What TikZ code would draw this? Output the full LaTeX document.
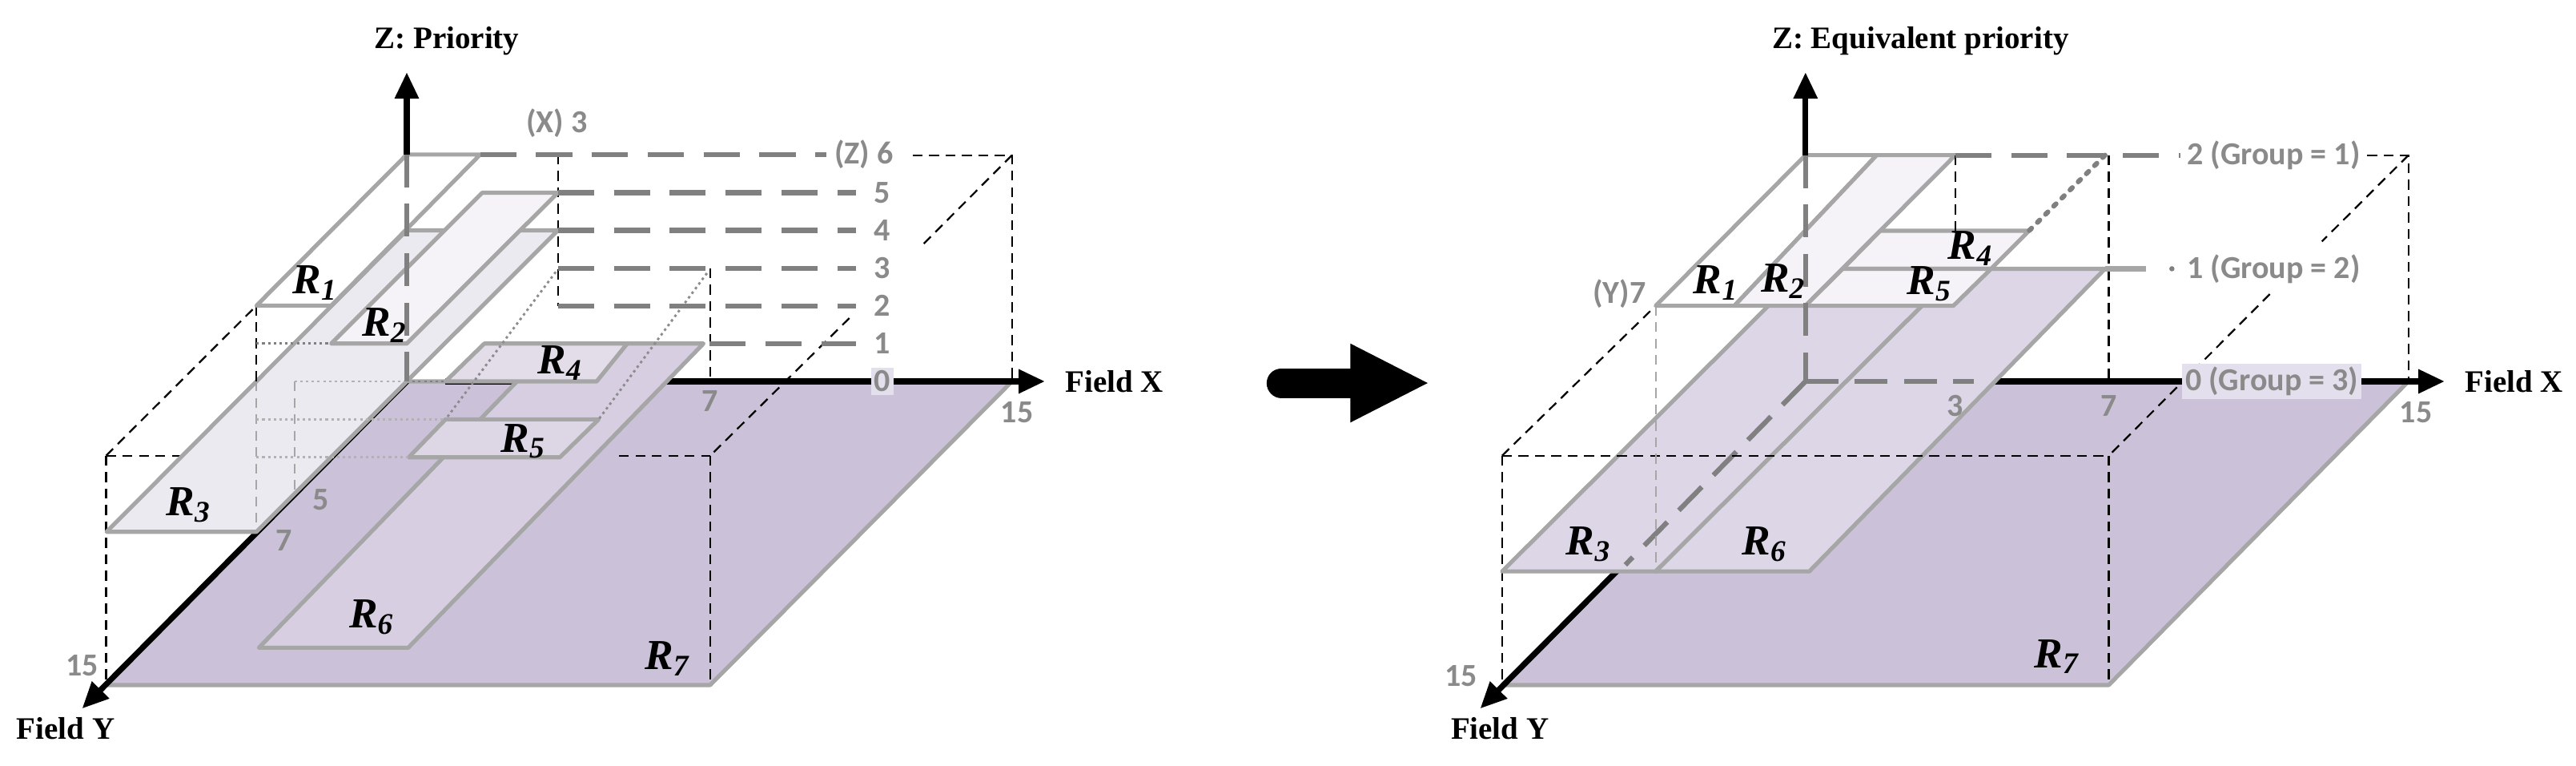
\documentclass[tikz,border=0pt]{standalone}
\usepackage{fontspec}
\setmainfont{Liberation Serif}
\newfontfamily\grayfnt{Carlito}
\usetikzlibrary{arrows.meta}
\definecolor{floorc}{HTML}{CBC2D9}
\definecolor{bord}{HTML}{A6A6A6}
\definecolor{dgray}{HTML}{808080}
\definecolor{lblg}{HTML}{8A8A8A}
\definecolor{cR6}{HTML}{D7CFE1}
\definecolor{cR4}{HTML}{E3DDE9}
\definecolor{cR5}{HTML}{DDD6E5}
\definecolor{cR3}{HTML}{ECEAF1}
\definecolor{cR2}{HTML}{F5F3F8}
\definecolor{cLow}{HTML}{DCD6E7}
\definecolor{cUp}{HTML}{F5F3F8}
\definecolor{zbg}{HTML}{E4DFEC}
\begin{document}
\begin{tikzpicture}[x=1pt,y=-1pt,
  plate/.style={draw=bord,line width=2.5pt,line join=round},
  lvl/.style={draw=dgray,line width=3pt,dash pattern=on 22pt off 12pt},
  zdash/.style={draw=dgray,line width=3pt,dash pattern=on 20pt off 10pt},
  bd/.style={black,line width=1.1pt,dash pattern=on 6pt off 4pt},
  bdl/.style={black!35,line width=1.1pt,dash pattern=on 6pt off 4pt},
  dot/.style={dgray,line width=1.4pt,dash pattern=on 1.5pt off 2pt},
  ldot/.style={black!30,line width=1.4pt,dash pattern=on 1.5pt off 2pt},
  ax/.style={black,line width=3.5pt,-{Triangle[length=16pt,width=14pt]}},
  rl/.style={font=\fontsize{26}{26}\selectfont\bfseries\itshape},
  gl/.style={text=lblg,font=\fontsize{19.5}{19.5}\selectfont\grayfnt\bfseries,inner sep=1pt},
  tl/.style={font=\fontsize{19}{19}\selectfont\bfseries}]
\useasboundingbox (0,0) rectangle (1568,465.5);
%================ LEFT =================
\coordinate (O) at (247.6,232); \coordinate (Xe) at (636,232);
\coordinate (Ze) at (247.6,44); \coordinate (Ye) at (50,431);
\coordinate (Z6) at (247.6,94);
\coordinate (a1) at (616,232); \coordinate (a2) at (432.3,416.7); \coordinate (a3) at (64.6,416.7);
\fill[floorc] (O) -- (a1) -- (a2) -- (a3) -- cycle;
\draw[plate] (O) -- (a1) -- (a2) -- (a3) -- cycle;
\coordinate (xs) at (271.2,232);
\draw[ax] (xs) -- (Xe);
\draw[dot,dgray] (O) -- (xs);
\draw[ax] (O) -- (Ye);
% back box lines
\coordinate (b1) at (555.5,94.4); \coordinate (b2) at (616,94.4);
\coordinate (b3) at (432.3,277.2); \coordinate (b4) at (64.6,277.2);
\draw[bd] (b1) -- (b2) -- (a1);
\draw[bd] (b2) -- (559.5,151); \draw[bd] (517,193.5) -- (b3);
\draw[bd] (b3) -- (a2);
\draw[bd] (b4) -- (a3);
\draw[bd] (b4) -- (132,277.2); \draw[bd] (376.8,277.2) -- (b3);
\draw[bd] (432.3,163.2) -- (432.3,232);
\draw[bd] (339.6,94) -- (339.6,186);
% R6
\coordinate (r6a) at (337,209); \coordinate (r6b) at (428.2,209);
\coordinate (r6c) at (248.5,394); \coordinate (r6d) at (157.6,394);
\draw[plate,fill=cR6] (r6a) -- (r6b) -- (r6c) -- (r6d) -- cycle;
% R4
\coordinate (r4a) at (294.8,209); \coordinate (r4b) at (381.8,209);
\coordinate (r4c) at (363.2,232); \coordinate (r4d) at (271.2,232);
\draw[plate,fill=cR4] (r4a) -- (r4b) -- (r4c) -- (r4d) -- cycle;
% R5
\coordinate (r5a) at (271.2,255.1); \coordinate (r5b) at (364.4,255.1);
\coordinate (r5c) at (340.8,278.2); \coordinate (r5d) at (248.8,278.2);
\draw[plate,fill=cR5] (r5a) -- (r5b) -- (r5c) -- (r5d) -- cycle;
\draw[ldot,black!45] (338.3,165.4) -- (r5a);
\draw[ldot,black!45] (430.3,166.2) -- (r5b);
% R3
\coordinate (r3a) at (247.6,140.1); \coordinate (r3b) at (339.6,140.1);
\coordinate (r3c) at (156.1,323.5); \coordinate (r3d) at (64.9,323.5);
\draw[plate,fill=cR3] (r3a) -- (r3b) -- (r3c) -- (r3d) -- cycle;
\draw[bd] (b4) -- (156.1,185.9);
\draw[bd] (156.1,185.9) -- (156.1,232);
\draw[bdl] (156.1,232) -- (156.1,323.5);
\draw[bdl] (179.2,232) -- (179.2,300);
\draw[ldot] (179.2,232) -- (O);
\draw[ldot] (156.1,255.1) -- (r5a);
\draw[ldot] (156.1,278.2) -- (r5d);
% R2
\coordinate (r2a) at (293.6,117.2); \coordinate (r2b) at (339.6,117.2);
\coordinate (r2c) at (247.6,209); \coordinate (r2d) at (201.6,209);
\draw[plate,fill=cR2] (r2a) -- (r2b) -- (r2c) -- (r2d) -- cycle;
\draw[dot] (156.1,209) -- (r2d);
% R1
\coordinate (r1a) at (247.6,94); \coordinate (r1b) at (292.3,94);
\coordinate (r1c) at (201.6,185.9); \coordinate (r1d) at (156.1,185.9);
\draw[plate,fill=white] (r1a) -- (r1b) -- (r1c) -- (r1d) -- cycle;
% z axis
\draw[ax] (Z6) -- (Ze);
\draw[zdash] (Z6) -- (O);
% level lines
\draw[lvl] (292.3,94) -- (503,94);
\foreach \y/\n in {117.2/5,140.1/4,163.2/3,186/2} \draw[lvl] (339.6,\y) -- (521,\y);
\draw[lvl] (432,209) -- (521,209);
\node[gl,anchor=east] (zl6) at (545,94) {(Z) 6};
\foreach \y/\n in {117.2/5,140.1/4,163.2/3,186/2,209/1} \node[gl] (zl\n) at (537,\y) {\n};
\node[gl,fill=zbg,inner sep=2pt] (zl0) at (537,232) {0};
\node[gl] (xl3) at (339,75) {(X) 3};
\node[gl] (xl7) at (432,244) {7};
\node[gl] (xl15) at (619,251) {15};
\node[gl] (yl5) at (195.4,303.8) {5};
\node[gl] (yl7) at (173,329) {7};
\node[gl] (yl15) at (50,404.7) {15};
\node[rl] at (191.6,172.2) {R\textsubscript{1}};
\node[rl] at (233.9,198) {R\textsubscript{2}};
\node[rl] at (114.6,307.2) {R\textsubscript{3}};
\node[rl] at (340.8,220.9) {R\textsubscript{4}};
\node[rl] at (318.4,268.5) {R\textsubscript{5}};
\node[rl] at (226,375.5) {R\textsubscript{6}};
\node[rl] at (406,400.7) {R\textsubscript{7}};
\node[tl] (tz) at (272,25) {Z: Priority};
\node[tl,anchor=west] (tx) at (645,232) {Field X};
\node[tl] (ty) at (40,443) {Field Y};
%================ ARROW =================
\coordinate (ar1) at (780,233); \coordinate (ar2) at (826,233);
\draw[line width=18pt,line cap=round] (ar1) -- (ar2);
\fill (822,209) -- (869,233) -- (822,257) -- cycle;
%================ RIGHT =================
\coordinate (P) at (1099,232); \coordinate (PXe) at (1488,232);
\coordinate (PZe) at (1099,44); \coordinate (PYe) at (901,431);
\coordinate (PZ2) at (1099,94.4);
\coordinate (f1) at (1466,232); \coordinate (f2) at (1283.6,416.7); \coordinate (f3) at (914.3,416.7);
\fill[floorc] (P) -- (f1) -- (f2) -- (f3) -- cycle;
\draw[plate] (P) -- (f1) -- (f2) -- (f3) -- cycle;
\draw[ax] (P) -- (PXe);
\draw[ax] (P) -- (PYe);
\coordinate (g1) at (1440.9,94.4); \coordinate (g2) at (1466,94.4);
\coordinate (g3) at (1283.6,277.2); \coordinate (g4) at (914.3,277.2);
\draw[bd] (g1) -- (g2) -- (f1);
\draw[bd] (g2) -- (1413.3,146.9); \draw[bd] (1381.6,178.9) -- (g3);
\draw[bd] (1283.6,94.4) -- (1283.6,232);
\draw[bd] (g3) -- (f2); \draw[bd] (g4) -- (f3);
\draw[bdl] (1190.2,186) -- (1190.2,232);
% lower plate
\coordinate (l1) at (1099,163.5); \coordinate (l2) at (1192.5,163.5); \coordinate (l3) at (1281.3,163.5);
\coordinate (l4) at (1101.3,347.6); \coordinate (l5) at (1007.8,347.6); \coordinate (l6) at (914.3,347.6);
\draw[plate,fill=cLow] (l1) -- (l2) -- (l5) -- (l6) -- cycle;
\draw[plate,fill=cLow] (l2) -- (l3) -- (l4) -- (l5) -- cycle;
\draw[zdash] (P) -- (989.3,343.6);
\draw[zdash] (P) -- (1201.5,232);
\draw[bd] (g4) -- (g3);
\draw[bd] (g4) -- (1007.8,186);
\draw[bdl] (1007.8,186) -- (1007.8,347.6);
% upper plate
\coordinate (u1) at (1099,94.4); \coordinate (u2) at (1142.3,94.4); \coordinate (u3) at (1190.2,94.4);
\coordinate (u4) at (1099,186); \coordinate (u5) at (1055.7,186); \coordinate (u6) at (1007.8,186);
\coordinate (u7) at (1144.5,140.4); \coordinate (u8) at (1235,140.4);
\coordinate (u9) at (1121.7,163.5); \coordinate (u10) at (1212,163.5); \coordinate (u11) at (1189,186);
\draw[plate,fill=white] (u1) -- (u2) -- (u5) -- (u6) -- cycle;
\draw[plate,fill=cUp] (u2) -- (u3) -- (u4) -- (u5) -- cycle;
\draw[plate,fill=cUp] (u7) -- (u8) -- (u10) -- (u9) -- cycle;
\draw[plate,fill=cUp] (u9) -- (u10) -- (u11) -- (u4) -- cycle;
\draw[bd] (1190.2,94.4) -- (1190.2,140.4);
\draw[dgray,line width=3pt,dash pattern=on 2pt off 5pt,line cap=round] (1281.3,94.4) -- (u8);
\draw[ax] (PZ2) -- (PZe);
\draw[zdash] (PZ2) -- (P);
\draw[lvl] (u3) -- (1327,94.4);
\draw[bord,line width=3pt] (l3) -- (1306,163.5);
\fill[dgray] (1322,163.5) circle (1.6pt);
\node[gl,anchor=west] (gr1) at (1330,94.4) {2 (Group = 1)};
\node[gl,anchor=west] (gr2) at (1330,163.5) {1 (Group = 2)};
\node[gl,anchor=west,fill=zbg,inner sep=2pt] (gr3) at (1328,232) {0 (Group = 3)};
\node[gl] (px3) at (1190,247) {3};
\node[gl] (px7) at (1283.6,247) {7};
\node[gl] (px15) at (1470.5,251) {15};
\node[gl,anchor=east] (py7) at (1003,178.9) {(Y)7};
\node[gl] (py15) at (889.3,411.4) {15};
\node[rl] at (1044.3,172.2) {R\textsubscript{1}};
\node[rl] at (1085.3,171) {R\textsubscript{2}};
\node[rl] at (966.8,331) {R\textsubscript{3}};
\node[rl] at (1199.3,151) {R\textsubscript{4}};
\node[rl] at (1174.2,172.6) {R\textsubscript{5}};
\node[rl] at (1073.9,331) {R\textsubscript{6}};
\node[rl] at (1251.7,399.4) {R\textsubscript{7}};
\node[tl] (ptz) at (1169,25) {Z: Equivalent priority};
\node[tl,anchor=west] (ptx) at (1497,232) {Field X};
\node[tl] (pty) at (913,443) {Field Y};
\end{tikzpicture}
\end{document}
